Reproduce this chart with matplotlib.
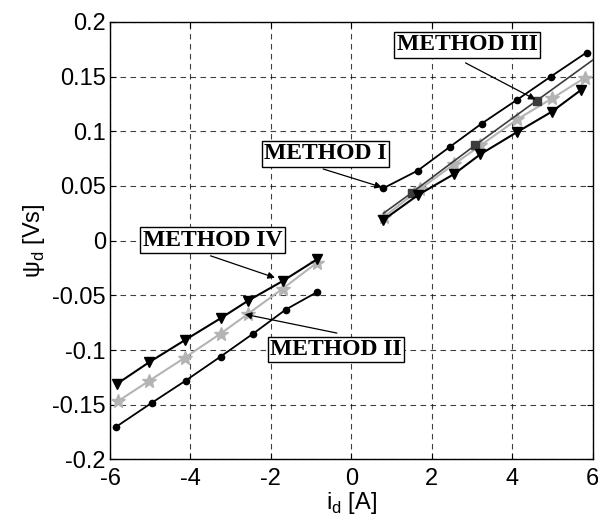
import matplotlib
matplotlib.use("Agg")
import matplotlib.pyplot as plt
import numpy as np

# Method I (black circles)
m1_neg_x = [-5.84, -4.95, -4.12, -3.25, -2.44, -1.63, -0.85]
m1_neg_y = [-0.170, -0.148, -0.128, -0.106, -0.085, -0.063, -0.047]
m1_pos_x = [0.80, 1.65, 2.46, 3.24, 4.13, 4.96, 5.85]
m1_pos_y = [0.048, 0.064, 0.086, 0.107, 0.129, 0.150, 0.172]

# Method II (grey stars)
m2_neg_x = [-5.81, -5.02, -4.14, -3.25, -2.57, -1.71, -0.85]
m2_neg_y = [-0.147, -0.128, -0.107, -0.085, -0.067, -0.044, -0.020]
m2_pos_x = [0.82, 1.70, 2.56, 3.21, 4.13, 4.99, 5.81]
m2_pos_y = [0.022, 0.047, 0.070, 0.087, 0.111, 0.130, 0.149]

# Method III (dark grey squares, positive branch only)
m3_x = [0.80, 1.51, 3.07, 4.61, 6.00]
m3_y = [0.025, 0.044, 0.087, 0.128, 0.165]

# Method IV (black down triangles)
m4_neg_x = [-5.83, -5.02, -4.14, -3.25, -2.57, -1.71, -0.85]
m4_neg_y = [-0.131, -0.111, -0.091, -0.071, -0.055, -0.037, -0.017]
m4_pos_x = [0.80, 1.67, 2.56, 3.21, 4.11, 4.99, 5.72]
m4_pos_y = [0.019, 0.042, 0.061, 0.079, 0.099, 0.118, 0.138]

xticks = [-6, -4, -2, 0, 2, 4, 6]
yticks = [-0.2, -0.15, -0.1, -0.05, 0, 0.05, 0.1, 0.15, 0.2]
yticklabels = ["-0.2", "-0.15", "-0.1", "-0.05", "0", "0.05", "0.1", "0.15", "0.2"]

plt.rcParams['font.family'] = ['Liberation Sans', 'DejaVu Sans']

fig = plt.figure(figsize=(5.98, 5.15), dpi=100)
ax = fig.add_axes([0.184, 0.108, 0.807, 0.8495])

grey = '#b4b4b4'
dgrey = '#3c3c3c'

for xs, ys in [(m2_neg_x, m2_neg_y), (m2_pos_x, m2_pos_y)]:
    ax.plot(xs, ys, color=grey, lw=1.5, marker='*', ms=10, mfc=grey, mec=grey, zorder=3)
ax.plot(m3_x, m3_y, color=dgrey, lw=1.2, marker='s', ms=6, mfc=dgrey, mec=dgrey,
        markevery=[1, 2, 3], zorder=3)
for xs, ys in [(m4_neg_x, m4_neg_y), (m4_pos_x, m4_pos_y)]:
    ax.plot(xs, ys, color='black', lw=1.5, marker='v', ms=7, mfc='black', mec='black', zorder=4)
for xs, ys in [(m1_neg_x, m1_neg_y), (m1_pos_x, m1_pos_y)]:
    ax.plot(xs, ys, color='black', lw=1.3, marker='o', ms=4.5, mfc='black', mec='black', zorder=4)

ax.set_xlim(-6, 6)
ax.set_ylim(-0.2, 0.2)
ax.set_xticks(xticks)
ax.set_xticklabels([str(t) for t in xticks])
ax.set_yticks(yticks)
ax.set_yticklabels(yticklabels)
ax.tick_params(direction='in', top=True, right=True, labelsize=17, length=4)
ax.tick_params(axis='x', pad=6)
ax.tick_params(axis='y', pad=3)
ax.grid(True, color='black', linestyle=(0, (5, 4)), lw=0.8, alpha=0.75)
for s in ax.spines.values():
    s.set_linewidth(1.0)

ax.set_xlabel('i$_{\\mathregular{d}}$ [A]', fontsize=17, labelpad=0)
ax.set_ylabel('\u03c8$_{\\mathregular{d}}$ [Vs]', fontsize=17, labelpad=4)

boxprops = dict(boxstyle='square,pad=0.1', fc='white', ec='black', lw=1.0)
tfont = dict(family='Liberation Serif', weight='bold', fontsize=17)

labels = [
    ("METHOD III", (2.875, 0.179), (2.84, 0.1625), (4.58, 0.129)),
    ("METHOD I", (-0.646, 0.0795), (-0.70, 0.0655), (0.76, 0.0488)),
    ("METHOD IV", (-3.45, 0.0003), (-3.50, -0.0139), (-1.90, -0.0339)),
    ("METHOD II", (-0.38, -0.0995), (-0.36, -0.0845), (-2.65, -0.0673)),
]
for txt, pos, tail, head in labels:
    ax.annotate('', xy=head, xytext=tail,
                arrowprops=dict(arrowstyle='-|>', color='black', lw=0.9,
                                mutation_scale=10, shrinkA=0, shrinkB=0), zorder=5)
    ax.text(pos[0], pos[1], txt, ha='center', va='center', bbox=boxprops, zorder=6, **tfont)

fig.savefig('out.png', dpi=100)
